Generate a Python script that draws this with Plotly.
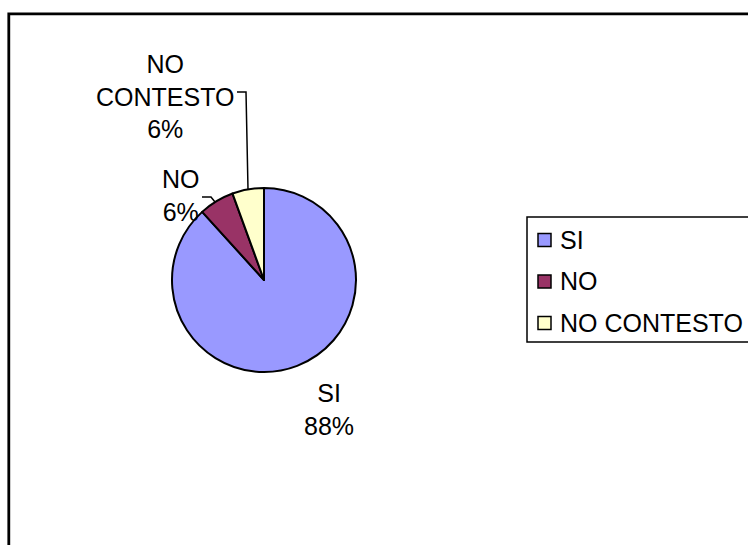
import plotly.graph_objects as go

# Data
categories = ["SI", "NO", "NO CONTESTO"]
values = [143, 10, 9]
colors = ["#9999FF", "#993366", "#FFFFCC"]

W, H = 748, 545
FONT = "Liberation Sans, Arial, sans-serif"


def px(x):
    return x / W


def py(y):
    return 1 - y / H


total = sum(values)
pcts = [round(v / total * 100) for v in values]

fig = go.Figure()

# Pie centred at (264, 280), radius ~92 px
fig.add_trace(go.Pie(
    labels=categories,
    values=values,
    sort=False,
    direction="clockwise",
    rotation=0,
    marker=dict(colors=colors, line=dict(color="black", width=2)),
    textinfo="none",
    hoverinfo="label+percent",
    showlegend=False,
    domain=dict(x=[px(172), px(356)], y=[py(372), py(188)]),
))

# Data labels
label_pos = {
    "SI": (329, 409),
    "NO": (181, 195),
    "NO CONTESTO": (165, 96),
}
annotations = []
for cat, p in zip(categories, pcts):
    text = cat.replace(" ", "<br>") + "<br>" + f"{p}%"
    x, y = label_pos[cat]
    annotations.append(dict(
        x=px(x), y=py(y), xref="paper", yref="paper", text=text,
        showarrow=False, xanchor="center", yanchor="middle",
        font=dict(family=FONT, size=25, color="black"), align="center",
    ))

shapes = [
    # chart frame: only left and top edges are visible in the picture
    dict(type="path", xref="paper", yref="paper",
         path=f"M {px(8.8)},0 L {px(8.8)},{py(13.8)} L 1,{py(13.8)}",
         line=dict(color="black", width=2.8)),
    # leader line for NO CONTESTO
    dict(type="path", xref="paper", yref="paper",
         path=f"M {px(237)},{py(92)} L {px(246)},{py(92)} L {px(248)},{py(189)}",
         line=dict(color="black", width=1.5)),
    # leader line for NO
    dict(type="path", xref="paper", yref="paper",
         path=f"M {px(202)},{py(197)} L {px(211)},{py(197)} L {px(215)},{py(202)}",
         line=dict(color="black", width=1.5)),
]

# Legend box (its right edge runs past the visible area)
LEG_LEFT, LEG_TOP, LEG_BOTTOM = 527, 217, 342
shapes.append(dict(
    type="path", xref="paper", yref="paper",
    path=(f"M 1,{py(LEG_TOP)} L {px(LEG_LEFT)},{py(LEG_TOP)} "
          f"L {px(LEG_LEFT)},{py(LEG_BOTTOM)} L 1,{py(LEG_BOTTOM)}"),
    line=dict(color="black", width=1.5),
))
row_y = [240, 281.5, 323]
for cat, col, ry in zip(categories, colors, row_y):
    shapes.append(dict(
        type="rect", xref="paper", yref="paper",
        x0=px(538), x1=px(551), y0=py(ry + 6.5), y1=py(ry - 6.5),
        fillcolor=col, line=dict(color="black", width=1.5),
    ))
    annotations.append(dict(
        x=px(558), y=py(ry), xref="paper", yref="paper", text=cat,
        showarrow=False, xanchor="left", yanchor="middle",
        font=dict(family=FONT, size=25, color="black"),
    ))

fig.update_layout(
    width=W, height=H,
    margin=dict(l=0, r=0, t=0, b=0),
    paper_bgcolor="white", plot_bgcolor="white",
    font=dict(family=FONT, size=25, color="black"),
    showlegend=False,
    annotations=annotations,
    shapes=shapes,
)

fig.write_html(
    "out.html",
    config={"displayModeBar": False},
    post_script=("document.body.style.margin='0';"
                 "document.body.style.overflow='hidden';"
                 "document.documentElement.style.overflow='hidden';"),
)
